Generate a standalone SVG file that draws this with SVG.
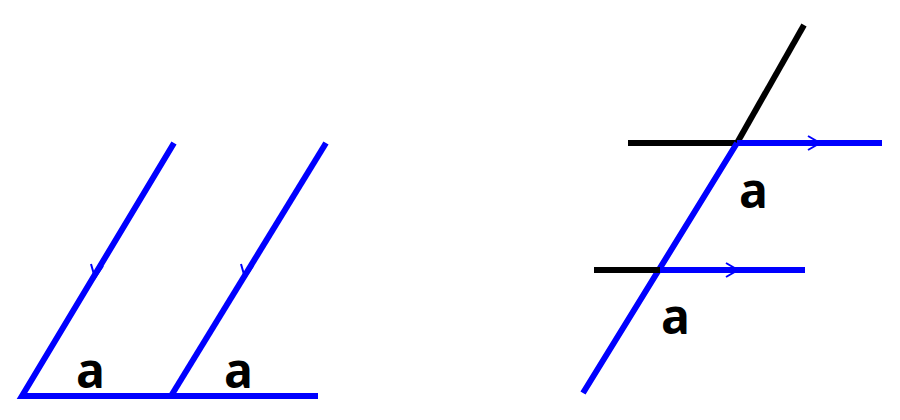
<svg xmlns="http://www.w3.org/2000/svg" width="900" height="420" viewBox="0 0 900 420">
<style>
.b{stroke:#0000ff;stroke-width:6;fill:none}
.k{stroke:#000;stroke-width:6;fill:none}
.ar{stroke:#0000ff;stroke-width:2;fill:none}
.t{font-family:"Open Sans","Liberation Sans",sans-serif;font-weight:bold;font-size:48px;fill:#000}
</style>
<rect width="900" height="420" fill="#fff"/>
<g id="connectors">
<path class="b" d="M174,143 L22,396 L318,396"/>
<path class="b" d="M326,143 L171,396"/>
<path class="ar" d="M91,264 L95,278 L103,266"/>
<path class="ar" d="M241,264 L245,278 L253,266"/>
<path class="k" d="M804,25 L737,143"/>
<path class="k" d="M628,143 L737,143"/>
<path class="b" d="M737,143 L882,143 M737,143 L583,393"/>
<path class="ar" d="M808,136 L820,143 L808,150"/>
<path class="k" d="M594,270 L660,270"/>
<path class="b" d="M660,270 L805,270"/>
<path class="ar" d="M726,263 L738,270 L726,277"/>
</g>
<g id="labels">
<text class="t" x="76" y="388">a</text>
<text class="t" x="224" y="388">a</text>
<text class="t" x="739" y="208">a</text>
<text class="t" x="661" y="334">a</text>
</g>
</svg>
